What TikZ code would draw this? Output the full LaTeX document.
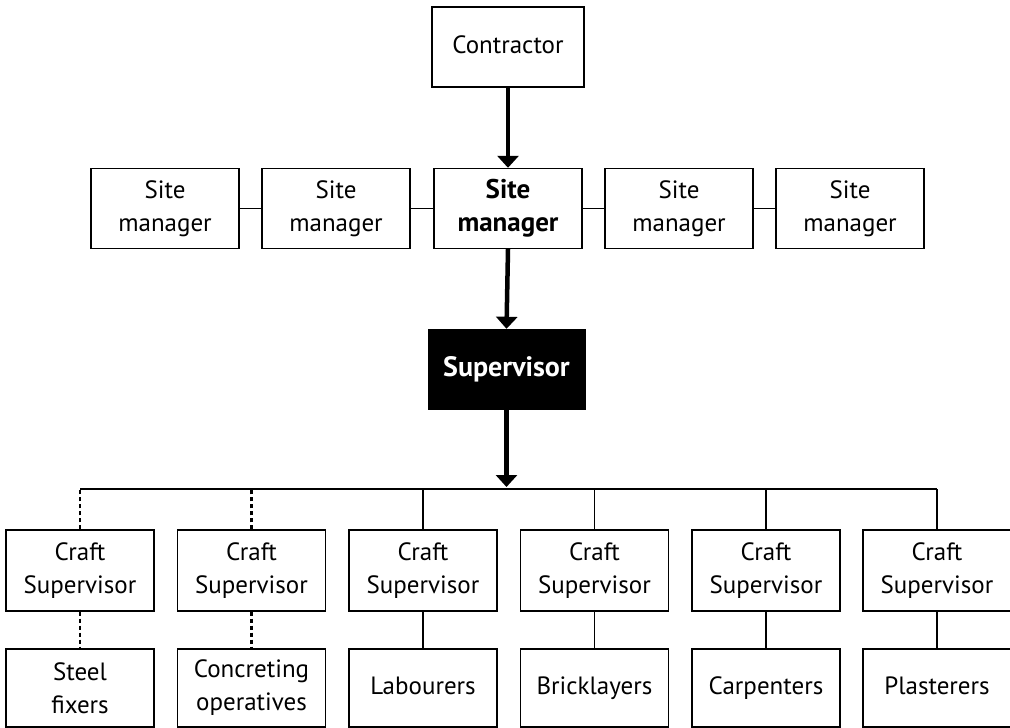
\documentclass[tikz,border=0pt]{standalone}
\usepackage{fontspec}
\setmainfont{PT Sans}
\usetikzlibrary{arrows.meta}
\begin{document}
\begin{tikzpicture}[x=1pt,y=-1pt,
  box/.style={draw=black,line width=1.4pt,minimum width=148pt,minimum height=80pt,inner sep=0pt,align=center,font=\fontsize{25}{33}\selectfont},
  oneline/.style={text height=17pt,text depth=5pt},
  darkbox/.style={fill=black,draw=black,minimum width=157pt,minimum height=80pt,inner sep=0pt,text=white,font=\fontsize{28}{33}\selectfont\bfseries,text height=19pt,text depth=5pt},
  bigarrow/.style={line width=4.5pt,-{Triangle[width=21pt,length=12pt]}},
  thin/.style={line width=1.4pt},
  dashline/.style={line width=2.5pt,dash pattern=on 4pt off 3pt}]
\useasboundingbox (0,0) rectangle (1010,728);
\node[box,oneline,minimum width=152pt] (con) at (508,47) {Contractor};
\node[box] (sm1) at (165,208.5) {Site\\manager};
\node[box] (sm2) at (336,208.5) {Site\\manager};
\node[box,font=\fontsize{27}{33}\selectfont\bfseries] (sm3) at (508,208.5) {Site\\manager};
\node[box] (sm4) at (679,208.5) {Site\\manager};
\node[box] (sm5) at (850,208.5) {Site\\manager};
\node[darkbox] (sup) at (506.5,369) {Supervisor};
\foreach \i/\x in {1/80,2/251.5,3/423,4/594.5,5/766,6/937}
  \node[box,minimum height=81pt] (c\i) at (\x,570.5) {Craft\\Supervisor};
\node[box,minimum height=78pt] (t1) at (80,688) {Steel\\fixers};
\node[box,minimum height=78pt] (t2) at (251.5,688) {Concreting\\operatives};
\node[box,oneline,minimum height=78pt] (t3) at (423,688) {Labourers};
\node[box,oneline,minimum height=78pt] (t4) at (594.5,688) {Bricklayers};
\node[box,oneline,minimum height=78pt] (t5) at (766,688) {Carpenters};
\node[box,oneline,minimum height=78pt] (t6) at (937,688) {Plasterers};
\coordinate (busL) at (80,489);
\coordinate (busR) at (937,489);
\coordinate (busM) at (506.5,487);
\draw[bigarrow] (con.south) -- (sm3.north);
\draw[bigarrow] (sm3.south) -- (sup.north);
\draw[bigarrow] (sup.south) -- (busM);
\draw[thin] (sm1.east) -- (sm2.west);
\draw[thin] (sm2.east) -- (sm3.west);
\draw[thin] (sm3.east) -- (sm4.west);
\draw[thin] (sm4.east) -- (sm5.west);
\draw[thin] (busL) -- (busR);
\foreach \i in {1,2} {
  \draw[dashline] (c\i.north) -- (c\i.north |- busL);
  \draw[dashline] (c\i.south) -- (t\i.north);
}
\foreach \i in {3,4,5,6} {
  \draw[thin] (c\i.north) -- (c\i.north |- busL);
  \draw[thin] (c\i.south) -- (t\i.north);
}
\end{tikzpicture}
\end{document}
